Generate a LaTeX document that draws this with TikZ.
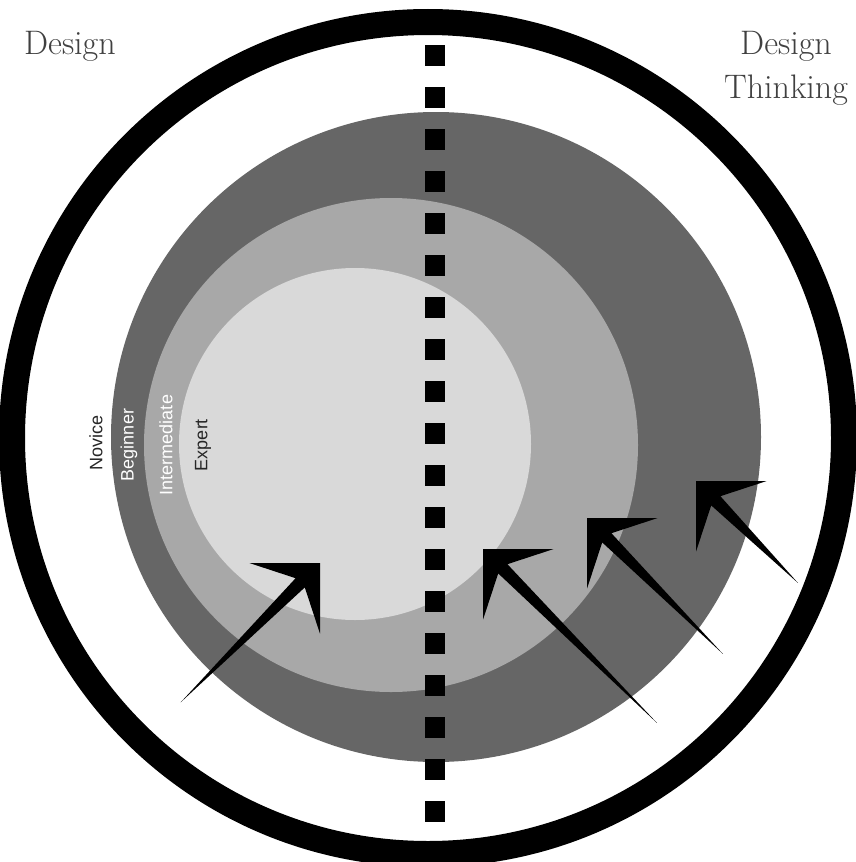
\documentclass[tikz,border=0pt]{standalone}
\usepackage{fontspec}
\newfontfamily\levelfont{Liberation Sans}
\definecolor{ringdark}{RGB}{102,102,102}
\definecolor{ringmid}{RGB}{168,168,168}
\definecolor{ringlight}{RGB}{217,217,217}
\definecolor{titlegray}{RGB}{64,64,64}

\begin{document}
\begin{tikzpicture}[x=1pt, y=-1pt,
  title/.style={font=\fontsize{34}{44}\selectfont, text=titlegray, inner sep=0pt, align=center},
  level/.style={rotate=90, font=\levelfont\fontsize{18}{20}\selectfont, inner sep=0pt},
  dart/.pic={\fill (-#1,0) -- (-28,6.5) -- (-50,50) -- (0,0) -- (-50,-50) -- (-28,-6.5) -- cycle;}
]
  \useasboundingbox (0,0) rectangle (855,862);

  % skill levels
  \fill[ringdark] (436,437) circle [radius=325pt];
  \fill[ringmid] (391,445) circle [radius=247pt];
  \fill[ringlight] (355,444) circle [radius=176pt];

  % outer ring and divider
  \draw[line width=26pt] (428,438) circle [radius=416pt];
  \draw[line width=20pt, dash pattern=on 21pt off 21pt] (435,45) -- (435,822);

  \node[title, anchor=base west] (design) at (24,54) {Design};
  \node[title, anchor=north] (thinking) at (786,31) {Design\\Thinking};

  \node[level, text=black!85] (novice) at (96,443) {Novice};
  \node[level, text=white] (beginner) at (129,445) {Beginner};
  \node[level, text=white] (intermediate) at (166,445) {Intermediate};
  \node[level, text=black!85] (expert) at (203,445) {Expert};

  % arrows
  \coordinate (tip1) at (320,563);
  \coordinate (tip2) at (483,549);
  \coordinate (tip3) at (587,518);
  \coordinate (tip4) at (696,481);
  \pic[rotate=45] at (tip1) {dart=197};
  \pic[rotate=135] at (tip2) {dart=246};
  \pic[rotate=135] at (tip3) {dart=192};
  \pic[rotate=135] at (tip4) {dart=144};
\end{tikzpicture}
\end{document}
